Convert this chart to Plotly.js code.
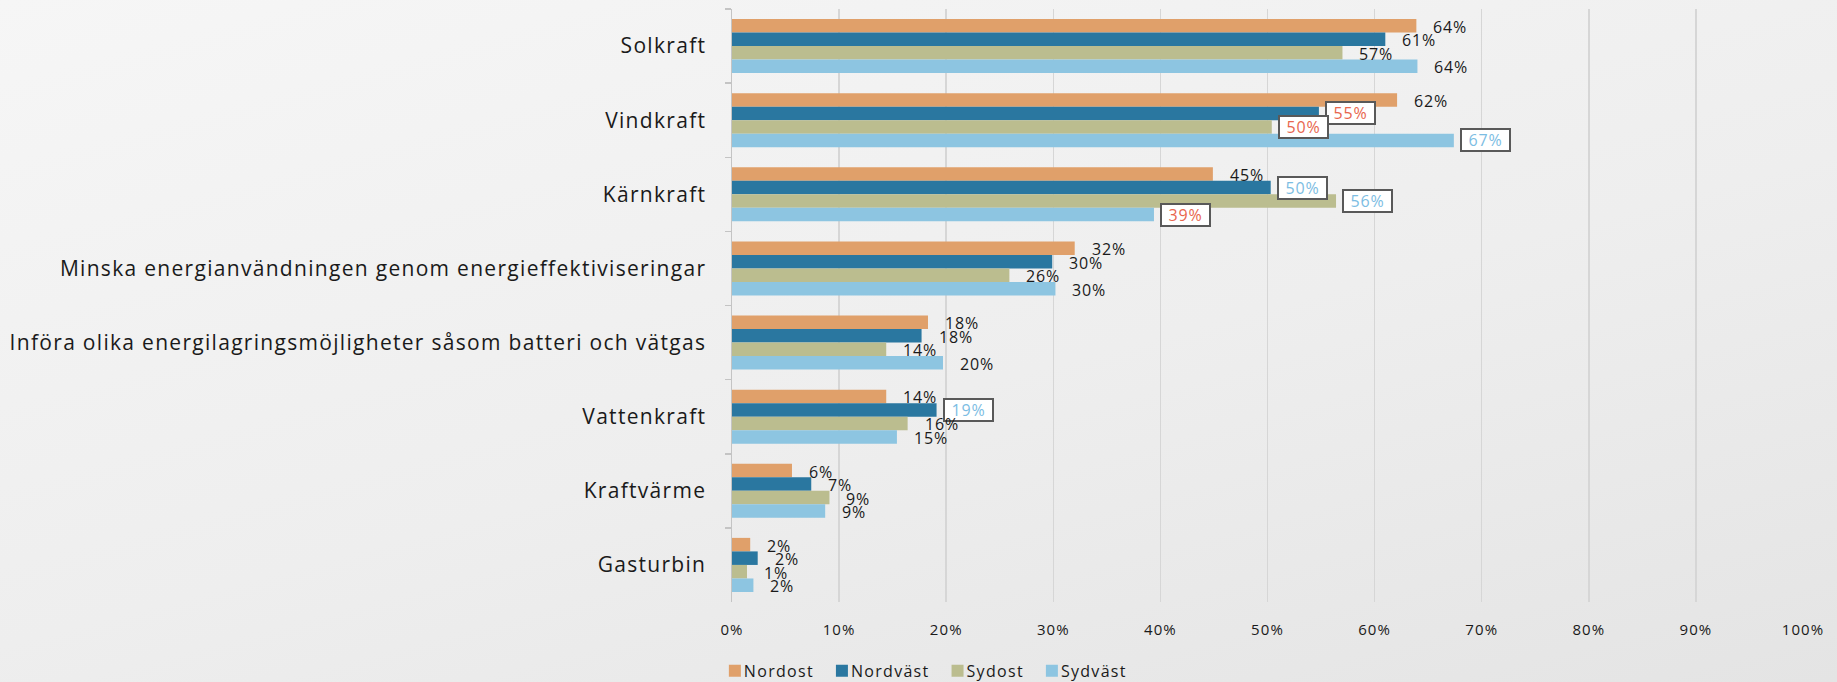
<!DOCTYPE html>
<html>
<head>
<meta charset="utf-8">
<script src="https://cdn.plot.ly/plotly-3.0.1.min.js"></script>
<style>
  html, body { margin:0; padding:0; width:1837px; height:682px; overflow:hidden;
    background: linear-gradient(165deg, #f6f6f6 0%, #eeeeee 55%, #e4e4e4 100%); }
  #chart { width:1837px; height:682px; }
  .ytick text { letter-spacing: 1.3px; }
  .xtick text { letter-spacing: 1.1px; }
  .legendtext { letter-spacing: 1.3px; transform: translateX(-11px); }
  .annotation-text { letter-spacing: 0.8px; }
</style>
</head>
<body>
<div id="chart"></div>
<script>
const categories = [
  'Solkraft',
  'Vindkraft',
  'Kärnkraft',
  'Minska energianvändningen genom energieffektiviseringar',
  'Införa olika energilagringsmöjligheter såsom batteri och vätgas',
  'Vattenkraft',
  'Kraftvärme',
  'Gasturbin'
];
const seriesNames = ['Nordost', 'Nordväst', 'Sydost', 'Sydväst'];
const seriesColors = ['#E0A06A', '#2A77A0', '#BBBD8F', '#8DC5E1'];

const nordost  = [63.9, 62.1, 44.9, 32.0, 18.3, 14.4, 5.6, 1.7];
const nordvast = [61.0, 54.8, 50.3, 29.9, 17.7, 19.1, 7.4, 2.4];
const sydost   = [57.0, 50.4, 56.4, 25.9, 14.4, 16.4, 9.1, 1.4];
const sydvast  = [64.0, 67.4, 39.4, 30.2, 19.7, 15.4, 8.7, 2.0];

// highlighted (boxed) labels: '' = plain, 'red' = lower, 'blue' = higher
const highlightNordost  = ['', '', '', '', '', '', '', ''];
const highlightNordvast = ['', 'red', 'blue', '', '', 'blue', '', ''];
const highlightSydost   = ['', 'red', 'blue', '', '', '', '', ''];
const highlightSydvast  = ['', 'blue', 'red', '', '', '', '', ''];

const xTickVals = [0, 10, 20, 30, 40, 50, 60, 70, 80, 90, 100];
const xTickText = ['0%', '10%', '20%', '30%', '40%', '50%', '60%', '70%', '80%', '90%', '100%'];

const allValues = [nordost, nordvast, sydost, sydvast];
const allHighlights = [highlightNordost, highlightNordvast, highlightSydost, highlightSydvast];
const highlightColors = { red: '#E8664E', blue: '#7CBDE3' };

const bargap = 0.27;
const barW = (1 - bargap) / seriesNames.length;

const traces = seriesNames.map((name, s) => ({
  type: 'bar',
  orientation: 'h',
  name: name,
  x: allValues[s],
  y: categories,
  marker: { color: seriesColors[s], line: { width: 0 } },
  hoverinfo: 'x+y+name'
}));

const annotations = [];
allValues.forEach((vals, s) => {
  vals.forEach((v, i) => {
    const yPos = i + (s - (seriesNames.length - 1) / 2) * barW;
    const hl = allHighlights[s][i];
    const txt = Math.round(v) + '%';
    if (hl) {
      annotations.push({
        x: v, y: yPos, xref: 'x', yref: 'y',
        text: txt, showarrow: false,
        xanchor: 'left', yanchor: 'middle', xshift: 6,
        font: { family: 'Open Sans, sans-serif', size: 16, color: highlightColors[hl] },
        bgcolor: '#ffffff', bordercolor: '#595959', borderwidth: 2, borderpad: 1,
        width: 45, height: 18, align: 'center'
      });
    } else {
      annotations.push({
        x: v, y: yPos, xref: 'x', yref: 'y',
        text: txt, showarrow: false,
        xanchor: 'left', yanchor: 'middle', xshift: 15, yshift: -1,
        font: { family: 'Open Sans, sans-serif', size: 16, color: '#1a1a1a' }
      });
    }
  });
});

const layout = {
  width: 1837, height: 682,
  paper_bgcolor: 'rgba(0,0,0,0)',
  plot_bgcolor: 'rgba(0,0,0,0)',
  margin: { l: 732, r: 34, t: 9, b: 80, pad: 0, autoexpand: false },
  barmode: 'group',
  bargap: bargap,
  bargroupgap: 0,
  font: { family: 'Open Sans, sans-serif', color: '#1a1a1a' },
  showlegend: true,
  legend: {
    orientation: 'h', x: -0.016, xanchor: 'left', y: -0.116, yanchor: 'middle',
    font: { family: 'Open Sans, sans-serif', size: 16, color: '#1a1a1a' },
    traceorder: 'normal', itemclick: false, itemdoubleclick: false,
    bgcolor: 'rgba(0,0,0,0)'
  },
  xaxis: {
    range: [0, 100], tickvals: xTickVals, ticktext: xTickText,
    showgrid: true, gridcolor: '#d6d6d6', gridwidth: 1.5,
    zeroline: false, showline: false, ticks: '',
    ticklabelstandoff: 17,
    tickfont: { family: 'Open Sans, sans-serif', size: 15, color: '#1a1a1a' },
    fixedrange: true
  },
  yaxis: {
    type: 'category', autorange: 'reversed',
    showgrid: false, zeroline: false,
    showline: true, linecolor: '#c4c4c4', linewidth: 1.5,
    ticks: 'outside', tickson: 'boundaries', ticklen: 6, tickcolor: '#c4c4c4', tickwidth: 1.5,
    ticklabelstandoff: 20,
    tickfont: { family: 'Open Sans, sans-serif', size: 21, color: '#1a1a1a' },
    fixedrange: true
  },
  annotations: annotations
};

Plotly.newPlot('chart', traces, layout, { displayModeBar: false, staticPlot: true }).then(() => {
  // tighten horizontal spacing between legend entries (Excel-style legend)
  document.querySelectorAll('.legend .traces').forEach((el, i) => {
    const t = el.getAttribute('transform') || '';
    const m = t.match(/translate\(\s*([-\d.]+)[ ,]+([-\d.]+)\s*\)/);
    if (m) {
      el.setAttribute('transform', 'translate(' + (parseFloat(m[1]) - 8 * i) + ',' + m[2] + ')');
    }
  });
});
</script>
</body>
</html>
